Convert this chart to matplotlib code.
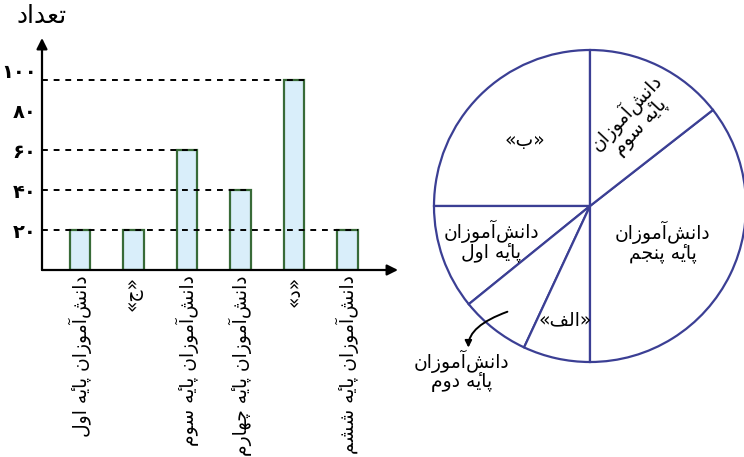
import numpy as np
import matplotlib.pyplot as plt

# داده‌های نمودار میله‌ای
bar_labels = ['دانش‌آموزان پایهٔ اول', '«ج»', 'دانش‌آموزان پایهٔ سوم',
              'دانش‌آموزان پایهٔ چهارم', '«د»', 'دانش‌آموزان پایهٔ ششم']
bar_values = [20, 20, 60, 40, 95, 20]
y_ticks = [20, 40, 60, 80, 100]
y_tick_labels = ['۲۰', '۴۰', '۶۰', '۸۰', '۱۰۰']
y_label = 'تعداد'

# داده‌های نمودار دایره‌ای (به درجه)
pie_labels = ['«ب»', 'دانش‌آموزان\nپایهٔ اول', 'دانش‌آموزان\nپایهٔ دوم',
              '«الف»', 'دانش‌آموزان\nپایهٔ پنجم', 'دانش‌آموزان\nپایهٔ سوم']
pie_degrees = [90, 39, 26, 25, 128, 52]

# شکل‌دهی ساده‌ی حروف فارسی (matplotlib خودش حروف را به هم نمی‌چسباند)
FORMS = {
    'ا': (0xFE8D, 0xFE8E), 'آ': (0xFE81, 0xFE82), 'د': (0xFEA9, 0xFEAA),
    'ر': (0xFEAD, 0xFEAE), 'ز': (0xFEAF, 0xFEB0), 'و': (0xFEED, 0xFEEE),
    'ب': (0xFE8F, 0xFE90, 0xFE91, 0xFE92), 'ت': (0xFE95, 0xFE96, 0xFE97, 0xFE98),
    'ج': (0xFE9D, 0xFE9E, 0xFE9F, 0xFEA0), 'س': (0xFEB1, 0xFEB2, 0xFEB3, 0xFEB4),
    'ش': (0xFEB5, 0xFEB6, 0xFEB7, 0xFEB8), 'ع': (0xFEC9, 0xFECA, 0xFECB, 0xFECC),
    'ف': (0xFED1, 0xFED2, 0xFED3, 0xFED4), 'ل': (0xFEDD, 0xFEDE, 0xFEDF, 0xFEE0),
    'م': (0xFEE1, 0xFEE2, 0xFEE3, 0xFEE4), 'ن': (0xFEE5, 0xFEE6, 0xFEE7, 0xFEE8),
    'ه': (0xFEE9, 0xFEEA, 0xFEEB, 0xFEEC), 'ی': (0xFBFC, 0xFBFD, 0xFBFE, 0xFBFF),
    'پ': (0xFB56, 0xFB57, 0xFB58, 0xFB59), 'چ': (0xFB7A, 0xFB7B, 0xFB7C, 0xFB7D),
}
MARKS = {'\u0654'}
MIRROR = {'«': '»', '»': '«'}


def fa(text):
    lines = []
    for line in text.split('\n'):
        units = []
        for c in line:
            if c in MARKS and units:
                units[-1][1] += c
            else:
                units.append([c, ''])
        out = []
        for i, (c, m) in enumerate(units):
            f = FORMS.get(c)
            if f is None:
                if c != '\u200c':
                    out.append(MIRROR.get(c, c) + m)
                continue
            prev = units[i - 1][0] if i > 0 else None
            nxt = units[i + 1][0] if i + 1 < len(units) else None
            jp = prev in FORMS and len(FORMS[prev]) == 4
            jn = len(f) == 4 and nxt in FORMS
            if jp and jn:
                g = f[3]
            elif jp:
                g = f[1]
            elif jn:
                g = f[2]
            else:
                g = f[0]
            out.append(chr(g) + m)
        lines.append(''.join(reversed(out)))
    return '\n'.join(lines)


plt.rcParams['font.family'] = ['DejaVu Sans']
W, H = 744, 457
fig = plt.figure(figsize=(W / 100, H / 100), dpi=100)

# نمودار میله‌ای
ax = fig.add_axes([42 / W, (H - 270) / H, 356 / W, 232 / H])
x = np.arange(1, len(bar_values) + 1)
bw = 0.39
ax.bar(x, bar_values, width=bw, color='#d9eefa', edgecolor='#386b38',
       linewidth=1.6, zorder=3)
ax.set_xlim(1 - 38 / 53.5, 1 + 318 / 53.5)
ax.set_ylim(0, 116)

# خط‌چین‌ها تا لبه‌ی راست دورترین میله با همان مقدار
for v in sorted(set(bar_values)):
    right = max(xi + bw / 2 for xi, bv in zip(x, bar_values) if bv == v)
    ax.hlines(v, ax.get_xlim()[0], right, colors='black',
              linestyles=(0, (3, 3)), linewidth=1.4, zorder=4)

for s in ax.spines.values():
    s.set_visible(False)
arrow = dict(arrowstyle='-|>', color='black', lw=1.6, mutation_scale=16,
             shrinkA=0, shrinkB=0)
ax.annotate('', xy=(0, 1), xytext=(0, 0), xycoords='axes fraction',
            arrowprops=arrow)
ax.annotate('', xy=(1, 0), xytext=(0, 0), xycoords='axes fraction',
            arrowprops=arrow)

ax.set_yticks(y_ticks, y_tick_labels, fontsize=14, fontweight='bold')
ax.set_xticks(x, [fa(l) for l in bar_labels], rotation=90, fontsize=13.5)
ax.tick_params(axis='y', length=0, pad=4)
ax.tick_params(axis='x', length=0, pad=4)
ax.text(0, 1 + 22 / 232, fa(y_label), transform=ax.transAxes,
        ha='center', va='center', fontsize=18)

# نمودار دایره‌ای
pax = fig.add_axes([(590 - 156) / W, (H - 206 - 156) / H, 312 / W, 312 / H])
wedges, _ = pax.pie(pie_degrees, startangle=90, counterclock=True,
                    wedgeprops=dict(facecolor='white', edgecolor='#3b3f94',
                                    linewidth=1.6))
pax.set_xlim(-1, 1)
pax.set_ylim(-1, 1)
for w in wedges:
    w.set_clip_on(False)

label_r = [0.59, 0.67, 1.34, 0.75, 0.52, 0.62]
label_rot = [0, 0, 0, 0, 0, 47]
for w, lab, r, rot in zip(wedges, pie_labels, label_r, label_rot):
    a = np.deg2rad((w.theta1 + w.theta2) / 2)
    pax.text(r * np.cos(a), r * np.sin(a), fa(lab), ha='center', va='center',
             rotation=rot, rotation_mode='anchor', fontsize=13.5,
             linespacing=0.95, clip_on=False)

# پیکان برچسب «پایهٔ دوم»
w2 = wedges[2]
a2 = np.deg2rad((w2.theta1 + w2.theta2) / 2)
start = (0.86 * np.cos(a2), 0.86 * np.sin(a2))
tip = (start[0] - 0.25, start[1] - 0.23)
pax.annotate('', xy=tip, xytext=start,
             arrowprops=dict(arrowstyle='-|>', color='black', lw=1.4,
                             mutation_scale=10, shrinkA=0, shrinkB=0,
                             connectionstyle='angle3,angleA=20,angleB=90'),
             annotation_clip=False)

fig.savefig('out.png', dpi=100)
